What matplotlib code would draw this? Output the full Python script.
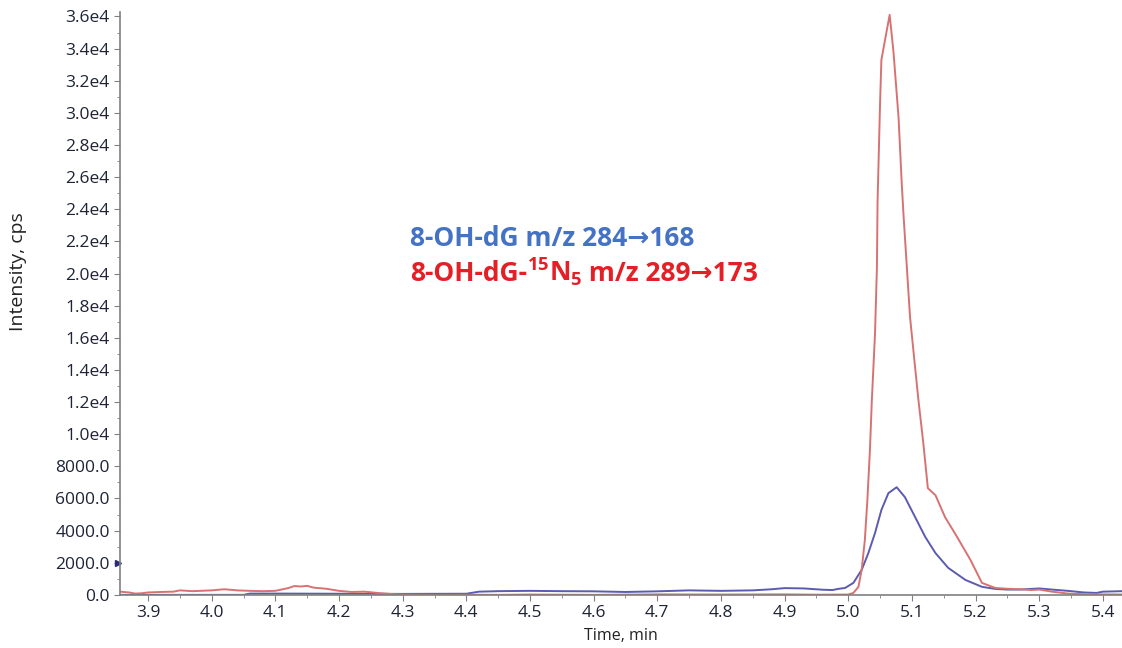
import matplotlib
matplotlib.use('Agg')
import matplotlib.pyplot as plt
from matplotlib.ticker import FuncFormatter, MultipleLocator

plt.rcParams['font.family'] = ['Open Sans', 'DejaVu Sans']
plt.rcParams['mathtext.fontset'] = 'custom'
plt.rcParams['mathtext.bf'] = 'Open Sans:bold'
plt.rcParams['mathtext.rm'] = 'Open Sans:bold'

# 8-OH-dG-15N5 (red) trace, time in min / intensity in cps
red_time = [3.856, 3.87, 3.88, 3.89, 3.90, 3.92, 3.94, 3.95, 3.97, 4.00,
            4.02, 4.04, 4.06, 4.08, 4.10, 4.12, 4.13, 4.14, 4.15, 4.16,
            4.18, 4.20, 4.22, 4.24, 4.26, 4.28, 4.30, 4.35, 4.40, 4.45,
            4.50, 4.60, 4.70, 4.80, 4.90, 4.95, 5.00, 5.008, 5.016, 5.021,
            5.026, 5.030, 5.034, 5.037, 5.042, 5.045, 5.046, 5.048, 5.050, 5.052,
            5.065, 5.071, 5.079, 5.084, 5.087, 5.092, 5.097, 5.105, 5.110, 5.118,
            5.125, 5.137, 5.152, 5.171, 5.192, 5.21, 5.231, 5.25, 5.27, 5.288,
            5.30, 5.32, 5.345, 5.37, 5.40, 5.43]
red_int = [200, 150, 80, 100, 150, 180, 200, 280, 230, 280,
           350, 280, 250, 230, 250, 420, 550, 520, 560, 450,
           380, 250, 180, 200, 120, 60, 20, 0, 10, 0,
           20, 0, 30, 20, 30, 10, 20, 120, 500, 1550,
           3400, 5900, 9000, 12100, 16260, 20400, 24500, 27600, 30700, 33300,
           36100, 33800, 29700, 25600, 23500, 20400, 17300, 14150, 12200, 9400,
           6640, 6200, 4840, 3600, 2170, 745, 430, 380, 350, 300,
           330, 200, 80, 40, 30, 20]

# 8-OH-dG (blue) trace
blue_time = [3.856, 3.90, 4.00, 4.05, 4.06, 4.10, 4.20, 4.30, 4.40, 4.42,
             4.45, 4.50, 4.55, 4.60, 4.65, 4.70, 4.75, 4.80, 4.85, 4.88,
             4.90, 4.93, 4.96, 4.975, 4.984, 4.995, 5.008, 5.021, 5.0315, 5.042,
             5.052, 5.063, 5.076, 5.089, 5.105, 5.121, 5.137, 5.157, 5.184, 5.21,
             5.231, 5.25, 5.27, 5.30, 5.32, 5.345, 5.37, 5.39, 5.40, 5.43]
blue_int = [0, 0, 0, 0, 80, 80, 70, 60, 70, 200,
            230, 250, 230, 220, 180, 220, 280, 250, 280, 350,
            420, 400, 320, 300, 370, 430, 745, 1550, 2600, 3850,
            5280, 6330, 6700, 6080, 4840, 3600, 2600, 1680, 930, 500,
            370, 330, 330, 400, 330, 250, 150, 120, 200, 230]

x_ticks = [3.9, 4.0, 4.1, 4.2, 4.3, 4.4, 4.5, 4.6, 4.7, 4.8, 4.9, 5.0, 5.1, 5.2, 5.3, 5.4]
y_ticks = list(range(0, 36001, 2000))

label_blue = "8-OH-dG m/z 284\u2192168"
# red label in three pieces: plain / isotope mathtext / plain
label_red_parts = ["8-OH-dG-", "$\\mathbf{^{15}N_5}$", " m/z 289\u2192173"]


def fmt_y(v, pos):
    if v >= 10000:
        return f"{v/1e4:.1f}e4"
    return f"{v:.1f}"


fig = plt.figure(figsize=(11.22, 6.48), dpi=100)
ax = fig.add_axes([0.107, 0.082, 0.893, 0.9])

ax.plot(blue_time, blue_int, color='#5b5bb0', lw=1.4)
ax.plot(red_time, red_int, color='#d87272', lw=1.4)

ax.set_xlim(3.856, 5.43)
ax.set_ylim(0, 36300)
ax.set_xticks(x_ticks)
ax.set_yticks(y_ticks)
ax.xaxis.set_minor_locator(MultipleLocator(0.05))
ax.yaxis.set_minor_locator(MultipleLocator(1000))
ax.yaxis.set_major_formatter(FuncFormatter(fmt_y))
ax.xaxis.set_major_formatter(FuncFormatter(lambda v, p: f"{v:.1f}"))

for s in ['top', 'right']:
    ax.spines[s].set_visible(False)
for s in ['left', 'bottom']:
    ax.spines[s].set_color('#808080')
    ax.spines[s].set_linewidth(1.2)

ax.tick_params(which='major', length=4, color='#808080', labelsize=12.5, labelcolor='#1e2435')
ax.tick_params(which='minor', length=2, color='#808080')

ax.set_ylabel("Intensity, cps", fontsize=14, color='#222222')
ax.yaxis.set_label_coords(-0.093, 0.554)
ax.set_xlabel("Time, min", fontsize=11.5, color='#222222', labelpad=5)

# small marker on the y axis at 2000
ax.plot([3.853], [2000], marker='>', color='#2b2b7a', markersize=5, clip_on=False)

ax.text(0.2894, 0.598, label_blue, transform=ax.transAxes, fontsize=19,
        fontweight='bold', color='#4472c4', va='baseline')

renderer = fig.canvas.get_renderer()
offset = 0
for part in label_red_parts:
    t = ax.annotate(part, xy=(0.2894, 0.538), xycoords='axes fraction',
                    xytext=(offset, 0), textcoords='offset pixels',
                    fontsize=19, fontweight='bold', color='#e41f26', va='baseline')
    offset += t.get_window_extent(renderer).width

fig.savefig('out.png', dpi=100)
